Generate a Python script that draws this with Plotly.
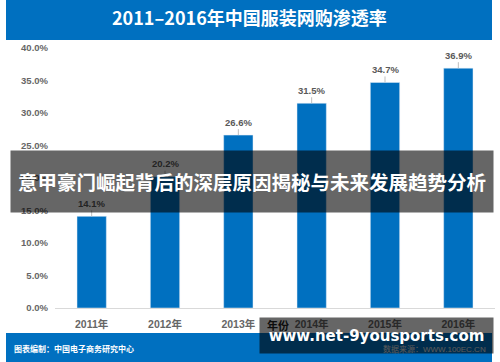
import plotly.graph_objects as go

years = ["2011年", "2012年", "2013年", "2014年", "2015年", "2016年"]
rates = [0.141, 0.202, 0.266, 0.315, 0.347, 0.369]
rate_labels = ["14.1%", "20.2%", "26.6%", "31.5%", "34.7%", "36.9%"]

title_text = "2011–2016年中国服装网购渗透率"
overlay_text = "意甲豪门崛起背后的深层原因揭秘与未来发展趋势分析"
watermark_text = "www.net-9yousports.com"
source_left = "图表编制：中国电子商务研究中心"
source_right = "数据来源：WWW.100EC.CN"
x_title = "年份"

BLUE = "#0070C0"
GREY = "#666666"
W, H = 500, 362
L, R, T, B = 55, 5, 48, 54
PW, PH = W - L - R, H - T - B


def px(x):
    return (x - L) / PW


def py(y):
    return (H - B - y) / PH


fig = go.Figure()
fig.add_trace(go.Bar(x=years, y=rates, marker_color=BLUE, width=0.4,
                     hoverinfo="skip"))

font_bold = dict(family="Liberation Sans, Noto Sans CJK SC", weight="bold")

# data labels with leader lines
for yr, v, lab in zip(years, rates, rate_labels):
    fig.add_annotation(x=yr, y=v, text=lab, showarrow=True, arrowhead=0,
                       arrowwidth=1, arrowcolor="#bfbfbf", ax=0, ay=-13,
                       standoff=0, borderpad=1,
                       font=dict(size=9.5, color="#595959", **font_bold))


def text_ann(x, y, text, font, xanchor="center"):
    fig.add_annotation(xref="paper", yref="paper", x=px(x), y=py(y),
                       xanchor=xanchor, yanchor="middle", text=text,
                       showarrow=False, font=font)


# axis title (under the watermark box)
text_ann(278, 325, x_title,
         dict(size=11, color="#222222", family="Noto Sans CJK SC", weight="bold"))
# footer texts
text_ann(12, 348, source_left,
         dict(size=8, color="white", family="Noto Sans CJK SC", weight="bold"), "left")
text_ann(488, 349, source_right,
         dict(size=8, color="#e0e0e0", family="Liberation Sans, Noto Sans CJK SC"), "right")
# title
text_ann(249, 17, title_text,
         dict(size=18, color="white", family="Noto Sans CJK SC", weight="bold"))

# grey overlay band with headline
fig.add_annotation(xref="paper", yref="paper", x=px(10), y=py(150),
                   xanchor="left", yanchor="top", width=482, height=61,
                   borderpad=0, bgcolor="rgba(0,0,0,0.6)", text=overlay_text,
                   showarrow=False, align="center", valign="middle",
                   font=dict(size=19.5, color="white", family="Noto Sans CJK SC", weight="bold"))

# watermark box
fig.add_annotation(xref="paper", yref="paper", x=px(259), y=py(317),
                   xanchor="left", yanchor="top", width=233, height=35,
                   borderpad=0, bgcolor="rgba(0,0,0,0.6)", text=watermark_text,
                   showarrow=False, align="center", valign="middle",
                   font=dict(size=15, color="white", family="DejaVu Sans", weight="bold"))

# blue header / footer bands
fig.add_shape(type="rect", xref="paper", yref="paper", x0=px(6), x1=px(492),
              y0=py(40), y1=py(0), fillcolor=BLUE, line_width=0, layer="below")
fig.add_shape(type="rect", xref="paper", yref="paper", x0=px(6), x1=px(492),
              y0=py(362), y1=py(333), fillcolor=BLUE, line_width=0, layer="below")

fig.update_layout(
    width=W, height=H, margin=dict(l=L, r=R, t=T, b=B, pad=0),
    paper_bgcolor="white", plot_bgcolor="white", showlegend=False,
    xaxis=dict(showgrid=False, showline=True, linecolor="#d9d9d9", linewidth=1,
               ticks="", ticklabelstandoff=6,
               tickfont=dict(size=10.5, color=GREY, **font_bold)),
    yaxis=dict(range=[0, 0.4], dtick=0.05, tickformat=".1%", showgrid=False,
               zeroline=False, ticks="", ticklabelstandoff=6,
               tickfont=dict(size=9.5, color=GREY, **font_bold)),
)

fig.write_html("out.html", config={"displayModeBar": False},
               post_script="document.body.style.margin='0';document.body.style.overflow='hidden';")
